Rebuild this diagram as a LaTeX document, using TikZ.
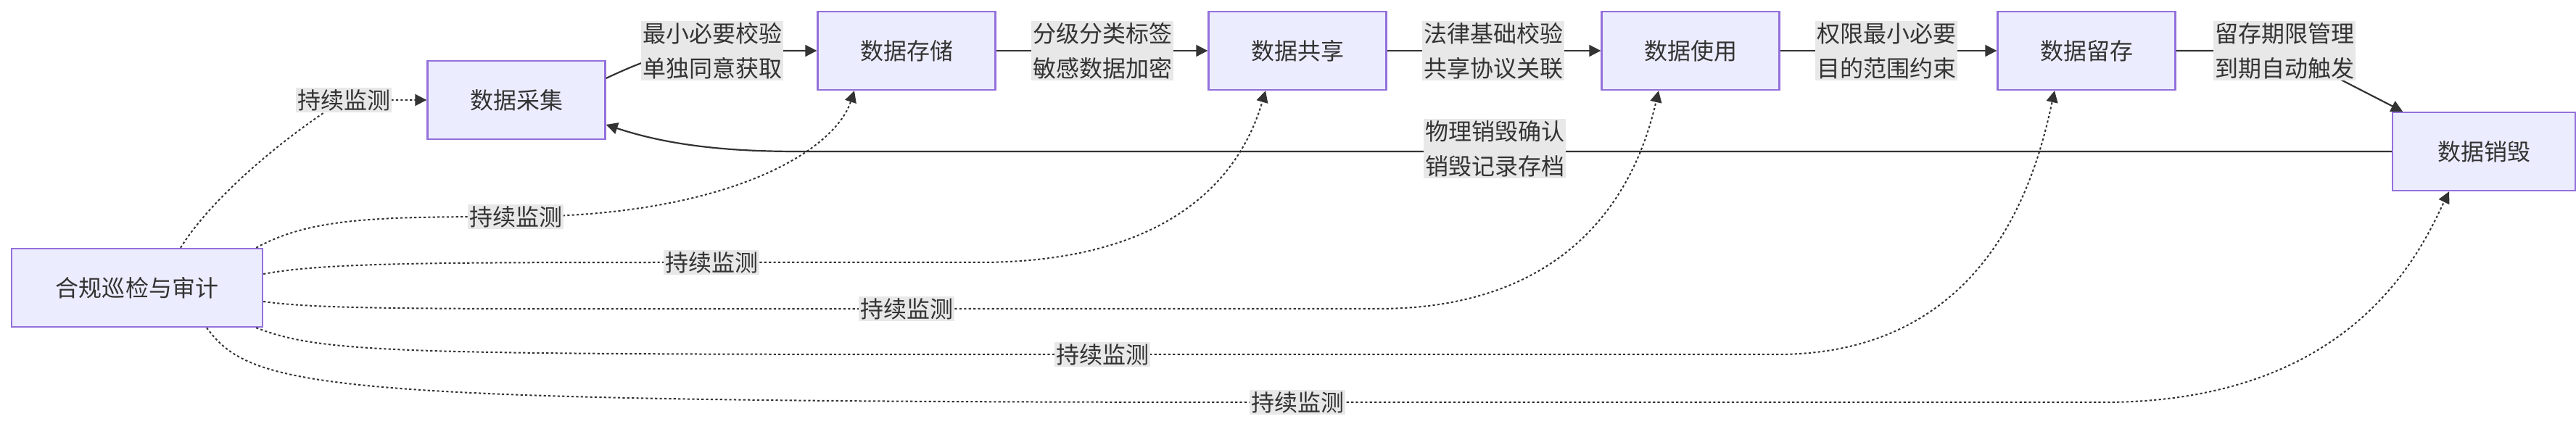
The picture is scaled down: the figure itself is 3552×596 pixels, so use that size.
\documentclass[tikz,border=0pt]{standalone}
\usepackage{fontspec}
\setmainfont{Noto Sans CJK SC}
\usetikzlibrary{arrows.meta}
\definecolor{boxfill}{HTML}{ECECFF}
\definecolor{boxline}{HTML}{9370DB}
\definecolor{ink}{HTML}{333333}
\definecolor{lblbg}{HTML}{E8E8E8}
\begin{document}
\begin{tikzpicture}[x=0.25pt,y=-0.25pt,
  stage/.style={draw=boxline,fill=boxfill,line width=0.6pt,minimum width=61.25pt,minimum height=27pt,inner sep=0pt,font=\fontsize{8}{10}\selectfont,text=ink},
  lbl/.style={fill=lblbg,inner sep=0.5pt,align=center,font=\fontsize{8}{12}\selectfont,text=ink},
  flow/.style={draw=ink,line width=0.55pt,-{Triangle[length=4pt,width=4pt]}},
  mon/.style={draw=ink,line width=0.5pt,dash pattern=on 0.8pt off 0.8pt,-{Triangle[length=4pt,width=4pt]}}]
\useasboundingbox (0,0) rectangle (3552,596);
\node[stage,minimum width=86.5pt] (hg) at (189,397) {合规巡检与审计};
\node[stage] (cj) at (712,138) {数据采集};
\node[stage] (cc) at (1250,70) {数据存储};
\node[stage] (gx) at (1789,70) {数据共享};
\node[stage] (sy) at (2331,70) {数据使用};
\node[stage] (lc) at (2877,70) {数据留存};
\node[stage,minimum width=63pt] (xh) at (3425,209) {数据销毁};
% main flow
\coordinate (p1) at (982,70);
\coordinate (p2) at (1520,70);
\coordinate (p3) at (2059,70);
\coordinate (p4) at (2601,70);
\coordinate (p5) at (3150,70);
\coordinate (p6) at (2061,205);
\draw[flow] ([yshift=7.5pt]cj.east) to[out=25,in=180] (p1) -- (cc.west);
\draw[flow] (cc.east) -- (gx.west);
\draw[flow] (gx.east) -- (sy.west);
\draw[flow] (sy.east) -- (lc.west);
\draw[flow] (lc.east) -- (p5) -- ([xshift=-28pt]xh.north);
\draw[flow] (xh.west) -- (1100,209) .. controls (1000,209) and (920,200) .. ([yshift=-8.5pt]cj.east);
\node[lbl] (l1) at (p1) {最小必要校验\\单独同意获取};
\node[lbl] at (p2) {分级分类标签\\敏感数据加密};
\node[lbl] at (p3) {法律基础校验\\共享协议关联};
\node[lbl] at (p4) {权限最小必要\\目的范围约束};
\node[lbl] at (p5) {留存期限管理\\到期自动触发};
\node[lbl] at (p6) {物理销毁确认\\销毁记录存档};
% monitoring
\coordinate (m1) at (474,138);
\coordinate (m2) at (711,299);
\coordinate (m3) at (981,362);
\coordinate (m4) at (1250,426);
\coordinate (m5) at (1520,489);
\coordinate (m6) at (1789,555);
\draw[mon] ([xshift=15pt]hg.north) .. controls (300,260) and (420,170) .. (m1) -- (cj.west);
\draw[mon] ([xshift=-2.5pt]hg.north east) .. controls (430,300) and (520,299) .. (m2) .. controls (1000,299) and (1150,210) .. ([xshift=-18pt]cc.south);
\draw[mon] ([yshift=4.75pt]hg.east) .. controls (450,362) and (600,362) .. (m3) -- (1350,362) .. controls (1650,362) and (1720,210) .. ([xshift=-11pt]gx.south);
\draw[mon] ([yshift=-4.75pt]hg.east) .. controls (450,428) and (600,426) .. (m4) -- (1900,426) .. controls (2200,426) and (2265,220) .. ([xshift=-11pt]sy.south);
\draw[mon] ([xshift=-2.5pt]hg.south east) .. controls (450,489) and (550,489) .. (m5) -- (2450,489) .. controls (2750,489) and (2810,230) .. ([xshift=-11pt]lc.south);
\draw[mon] ([xshift=24pt]hg.south) .. controls (350,540) and (450,555) .. (m6) -- (2900,555) .. controls (3250,555) and (3340,340) .. ([xshift=-12pt]xh.south);
\node[lbl] at (m1) {持续监测};
\node[lbl] at (m2) {持续监测};
\node[lbl] at (m3) {持续监测};
\node[lbl] at (m4) {持续监测};
\node[lbl] at (m5) {持续监测};
\node[lbl] at (m6) {持续监测};
\end{tikzpicture}
\end{document}
